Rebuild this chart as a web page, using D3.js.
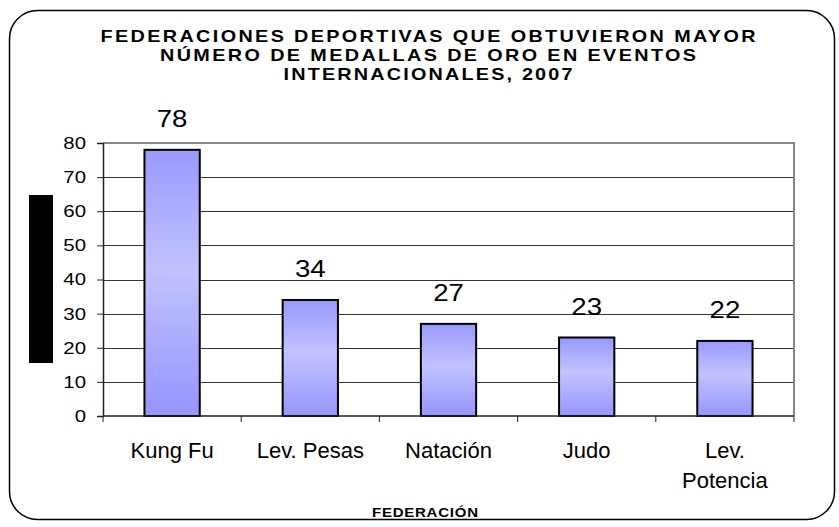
<!DOCTYPE html>
<html>
<head>
<meta charset="utf-8">
<script src="https://cdn.jsdelivr.net/npm/d3@7"></script>
<style>
  body { margin: 0; background: #fff; }
  svg text { font-family: "Liberation Sans", Arial, sans-serif; fill: #000; }
</style>
</head>
<body>
<svg id="chart" width="839" height="527"></svg>
<script>
const federaciones = ["Kung Fu", "Lev. Pesas", "Natación", "Judo", "Lev. Potencia"];
const medallas = [78, 34, 27, 23, 22];
const yTicks = [0, 10, 20, 30, 40, 50, 60, 70, 80];
const titleLines = [
  "FEDERACIONES DEPORTIVAS QUE OBTUVIERON MAYOR",
  "NÚMERO DE MEDALLAS DE ORO EN EVENTOS",
  "INTERNACIONALES, 2007"
];
const xTitle = "FEDERACIÓN";

const width = 839;
const height = 527;
const plot = { left: 103, right: 794, top: 143, bottom: 416 };
const stretch = 1.2; // el texto original se ve ensanchado

const svg = d3.select("#chart");

// gradiente de las barras
const grad = svg.append("defs").append("linearGradient")
  .attr("id", "barGrad")
  .attr("x1", 0).attr("y1", 0).attr("x2", 0).attr("y2", 1);
grad.append("stop").attr("offset", "0%").attr("stop-color", "#9999ff");
grad.append("stop").attr("offset", "45%").attr("stop-color", "#c2c2ff");
grad.append("stop").attr("offset", "100%").attr("stop-color", "#9595ff");

// marco redondeado
svg.append("rect")
  .attr("x", 9.5).attr("y", 10.5)
  .attr("width", 825).attr("height", 509)
  .attr("rx", 28).attr("ry", 28)
  .attr("fill", "#fff")
  .attr("stroke", "#000")
  .attr("stroke-width", 1.5);

// titulo
const titleWidths = [655, 536, 289];
svg.append("g").selectAll("text")
  .data(titleLines)
  .enter().append("text")
  .attr("transform", (d, i) => `translate(428,${42 + i * 19}) scale(${stretch},1)`)
  .attr("text-anchor", "middle")
  .attr("font-weight", "bold")
  .attr("font-size", 16.5)
  .attr("textLength", (d, i) => titleWidths[i] / stretch)
  .attr("lengthAdjust", "spacing")
  .text(d => d);

const xScale = d3.scaleBand()
  .domain(federaciones)
  .range([plot.left, plot.right])
  .padding(0);

const yScale = d3.scaleLinear()
  .domain([0, 80])
  .range([plot.bottom, plot.top]);

const g = svg.append("g");

// lineas de cuadricula
g.selectAll(".grid")
  .data(yTicks.filter(d => d > 0 && d < 80))
  .enter().append("line")
  .attr("x1", plot.left).attr("x2", plot.right)
  .attr("y1", d => Math.round(yScale(d)) + 0.5)
  .attr("y2", d => Math.round(yScale(d)) + 0.5)
  .attr("stroke", "#333")
  .attr("stroke-width", 1);

// borde superior y derecho del area
g.append("path")
  .attr("d", `M${plot.left},${plot.top} H${plot.right} V${plot.bottom}`)
  .attr("fill", "none")
  .attr("stroke", "#888")
  .attr("stroke-width", 2);

// barras
const bw = xScale.bandwidth() * 0.4;
g.selectAll(".bar")
  .data(medallas)
  .enter().append("rect")
  .attr("x", (d, i) => xScale(federaciones[i]) + (xScale.bandwidth() - bw) / 2)
  .attr("y", d => yScale(d))
  .attr("width", bw)
  .attr("height", d => yScale(0) - yScale(d))
  .attr("fill", "url(#barGrad)")
  .attr("stroke", "#000")
  .attr("stroke-width", 2);

// etiquetas de valor
g.selectAll(".val")
  .data(medallas)
  .enter().append("text")
  .attr("transform", (d, i) =>
    `translate(${xScale(federaciones[i]) + xScale.bandwidth() / 2},${yScale(d) - 23}) scale(1.15,1)`)
  .attr("text-anchor", "middle")
  .attr("font-size", 24)
  .text(d => d);

// eje Y
const yAxis = d3.axisLeft(yScale)
  .tickValues(yTicks)
  .tickSize(6)
  .tickPadding(10);
const ya = svg.append("g")
  .attr("transform", `translate(${plot.left},0)`)
  .call(yAxis);
ya.select(".domain").attr("stroke", "#222").attr("stroke-width", 1.5);
ya.selectAll(".tick line").attr("stroke", "#222");
ya.selectAll(".tick text")
  .attr("font-size", 17)
  .attr("font-family", "Liberation Sans, Arial, sans-serif")
  .attr("fill", "#000")
  .attr("transform", "translate(-17,0) scale(1.2,1)")
  .attr("x", 0);

// eje X
const xa = svg.append("g")
  .attr("transform", `translate(0,${plot.bottom})`);
xa.append("line")
  .attr("x1", plot.left).attr("x2", plot.right)
  .attr("y1", 0).attr("y2", 0)
  .attr("stroke", "#222").attr("stroke-width", 1.5);
xa.selectAll(".xt")
  .data(federaciones.concat(["__fin"]))
  .enter().append("line")
  .attr("x1", (d, i) => plot.left + i * xScale.step())
  .attr("x2", (d, i) => plot.left + i * xScale.step())
  .attr("y1", 0).attr("y2", 6)
  .attr("stroke", "#222");

const catLabels = xa.selectAll(".cat")
  .data(federaciones)
  .enter().append("text")
  .attr("text-anchor", "middle")
  .attr("font-size", 22)
  .attr("y", 42)
  .attr("x", d => xScale(d) + xScale.bandwidth() / 2)
  .text(d => d);

// partir etiquetas largas en dos lineas
catLabels.each(function (d) {
  const t = d3.select(this);
  if (this.getComputedTextLength() > xScale.bandwidth() * 0.9) {
    const words = d.split(" ");
    const x = t.attr("x");
    t.text(null);
    t.append("tspan").attr("x", x).attr("dy", 0).text(words.slice(0, -1).join(" "));
    t.append("tspan").attr("x", x).attr("dy", 30).text(words[words.length - 1]);
  }
});

// titulo eje X
svg.append("text")
  .attr("transform", `translate(425,517) scale(${stretch},1)`)
  .attr("text-anchor", "middle")
  .attr("font-weight", "bold")
  .attr("font-size", 12.5)
  .attr("textLength", 106 / stretch)
  .attr("lengthAdjust", "spacing")
  .text(xTitle);

// bloque negro sobre el titulo del eje Y
svg.append("rect")
  .attr("x", 29).attr("y", 195)
  .attr("width", 24).attr("height", 168)
  .attr("fill", "#000");
</script>
</body>
</html>
